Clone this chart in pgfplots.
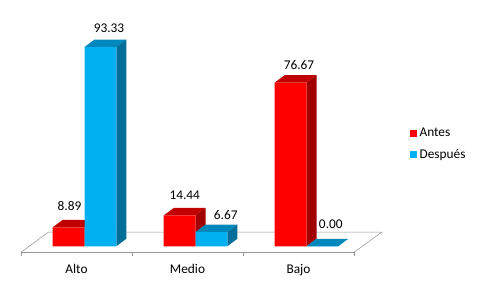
\documentclass[border=0pt]{standalone}
\usepackage{fontspec}
\setmainfont{Carlito}
\usepackage{pgfplots}
\usepackage{pgfplotstable}
\pgfplotsset{compat=1.18}
\definecolor{redfront}{RGB}{255,0,0}
\definecolor{redtop}{RGB}{192,0,0}
\definecolor{redside}{RGB}{160,0,0}
\definecolor{bluefront}{RGB}{0,176,240}
\definecolor{bluetop}{RGB}{0,136,188}
\definecolor{blueside}{RGB}{0,110,152}
\definecolor{floorgray}{RGB}{150,150,150}

\pgfplotstableread{
x y
0 8.89
1 14.44
2 76.67
}\antes
\pgfplotstableread{
x y
0 93.33
1 6.67
2 0.00
}\despues

\begin{document}
\begin{tikzpicture}
\begin{axis}[
  scale only axis, width=249.75pt, height=164.6pt,
  xmin=-0.5, xmax=2.5, ymin=-2.81, ymax=100,
  clip=false,
  axis x line*=bottom, axis y line=none,
  axis line style={floorgray},
  xtick={0,1,2}, xticklabels={Alto,Medio,Bajo},
  minor xtick={-0.5,0.5,1.5,2.5},
  ytick=\empty,
  major tick length=0pt, minor tick length=2.6pt, tick align=outside,
  minor tick style={floorgray},
  xticklabel style={anchor=base, yshift=-16.3pt},
  legend style={draw=none, fill=none, at={(axis cs:3.2658,47.92)}, anchor=center, row sep=4pt},
  legend cell align=left,
]
% bounding box of the whole picture
\path (axis cs:-0.6892,-19.53) rectangle (axis cs:3.635,115.36);

% floor
\addplot[floorgray, forget plot] coordinates {(-0.5,-2.81) (-0.254,6.6) (2.75,6.6) (2.5,-2.81)};

% red tops and sides
\addplot[fill=redtop, draw=none, forget plot] coordinates {(-0.2144,8.89) (0.0721,8.89) (0.1622,12.403) (-0.1243,12.403)};
\addplot[fill=redside, draw=none, forget plot] coordinates {(0.0721,0) (0.0721,8.89) (0.1622,12.403) (0.1622,3.513)};
\addplot[fill=redtop, draw=none, forget plot] coordinates {(0.7856,14.44) (1.0721,14.44) (1.1622,17.953) (0.8757,17.953)};
\addplot[fill=redside, draw=none, forget plot] coordinates {(1.0721,0) (1.0721,14.44) (1.1622,17.953) (1.1622,3.513)};
\addplot[fill=redtop, draw=none, forget plot] coordinates {(1.7856,76.67) (2.0721,76.67) (2.1622,80.183) (1.8757,80.183)};
\addplot[fill=redside, draw=none, forget plot] coordinates {(2.0721,0) (2.0721,76.67) (2.1622,80.183) (2.1622,3.513)};

% red fronts
\addplot[ybar, bar width=0.2865, bar shift=-0.07115, fill=redfront, draw=none,
  legend image code/.code={\fill[redfront] (0pt,-2.6pt) rectangle (5.25pt,2.6pt);}]
  table[x=x, y=y] {\antes};
\addlegendentry{Antes}

% blue tops and sides
\addplot[fill=bluetop, draw=none, forget plot] coordinates {(0.0721,93.33) (0.3586,93.33) (0.4487,96.843) (0.1622,96.843)};
\addplot[fill=blueside, draw=none, forget plot] coordinates {(0.3586,0) (0.3586,93.33) (0.4487,96.843) (0.4487,3.513)};
\addplot[fill=bluetop, draw=none, forget plot] coordinates {(1.0721,6.67) (1.3586,6.67) (1.4487,10.183) (1.1622,10.183)};
\addplot[fill=blueside, draw=none, forget plot] coordinates {(1.3586,0) (1.3586,6.67) (1.4487,10.183) (1.4487,3.513)};
\addplot[fill=bluetop, draw=none, forget plot] coordinates {(2.0721,0) (2.3586,0) (2.4487,3.513) (2.1622,3.513)};

% blue fronts
\addplot[ybar, bar width=0.2865, bar shift=0.21535, fill=bluefront, draw=none,
  legend image code/.code={\fill[bluefront] (0pt,-2.6pt) rectangle (5.25pt,2.6pt);}]
  table[x=x, y=y] {\despues};
\addlegendentry{Después}

% data labels (centred at their positions, as in the original)
\addplot[draw=none, mark=none, forget plot, nodes near coords, point meta=explicit symbolic,
  every node near coord/.append style={anchor=center, text=black, inner sep=0pt}]
  coordinates {
   (-0.063,18.74) [8.89]
   (0.9748,24.03) [14.44]
   (2.0045,85.06) [76.67]
   (0.2928,102.25) [93.33]
   (1.345,14.66) [6.67]
   (2.291,10.12) [0.00]
  };
\end{axis}
\end{tikzpicture}
\end{document}
